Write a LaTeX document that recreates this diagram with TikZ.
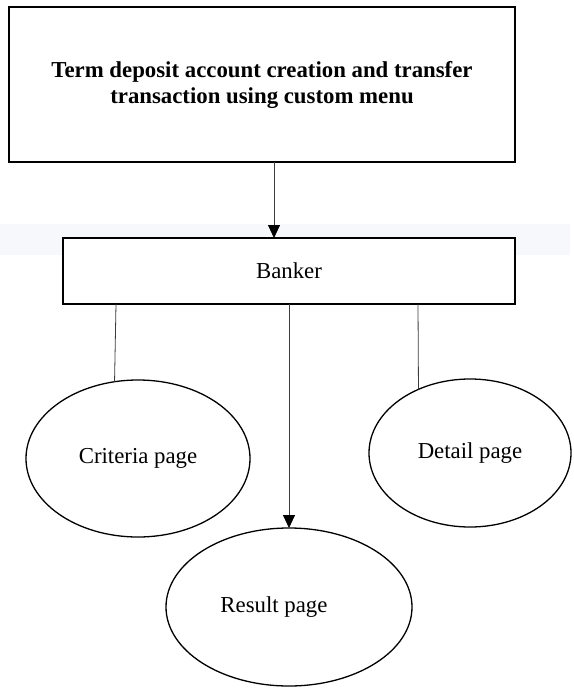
\documentclass[tikz,border=0pt]{standalone}
\usepackage{fontspec}
\setmainfont{Liberation Serif}
\usetikzlibrary{arrows.meta,shapes.geometric}
\definecolor{bandcol}{RGB}{247,248,251}
\definecolor{linecol}{RGB}{60,60,60}
\tikzset{
  boxnode/.style={draw=black,line width=1.6pt,rectangle,inner sep=0pt,outer sep=0pt,align=center,font=\fontsize{22.8}{26}\selectfont},
  ellnode/.style={draw=black,line width=1.3pt,ellipse,inner sep=0pt,outer sep=0pt,font=\fontsize{22.8}{26}\selectfont},
  conn/.style={draw=linecol,line width=0.8pt},
  arr/.style={conn,-{Triangle[width=12pt,length=13pt,color=black]}}
}
\begin{document}
\begin{tikzpicture}[x=1pt,y=-1pt]
\useasboundingbox (0,0) rectangle (573,688);
\fill[bandcol] (0,224) rectangle (570,255);
\node[boxnode,minimum width=506pt,minimum height=155pt] (top) at (262,84.5)
  {\bfseries Term deposit account creation and transfer\\\bfseries transaction using custom menu};
\node[boxnode,fill=white,minimum width=452pt,minimum height=66pt] (banker) at (289,271) {Banker};
\node[ellnode,minimum width=224pt,minimum height=157pt] (crit) at (138,458.5) {Criteria page};
\node[ellnode,minimum width=202pt,minimum height=148pt] (det) at (470,453) {Detail page};
\node[ellnode,minimum width=246pt,minimum height=158pt,
  label={[font=\fontsize{22.8}{26}\selectfont,xshift=-15pt]center:Result page}] (res) at (289,607) {};
\draw[arr] ([xshift=12pt]top.south) -- ([xshift=12pt]top.south |- banker.north);
\draw[conn] ([xshift=-173pt]banker.south) -- (crit.107);
\draw[arr] (banker.south) -- (res.north);
\draw[conn] ([xshift=129pt]banker.south) -- (det.129);
\end{tikzpicture}
\end{document}
